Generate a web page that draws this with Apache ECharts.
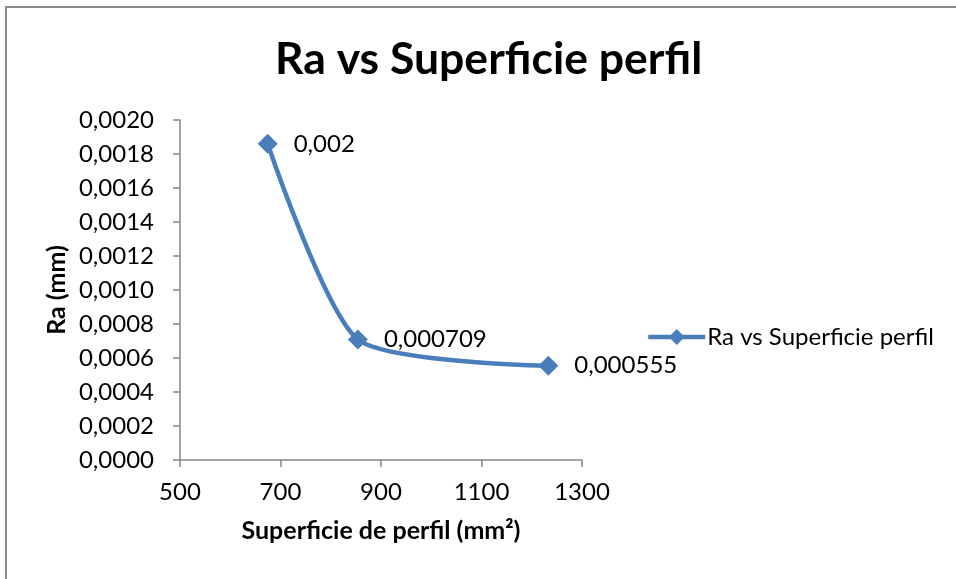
<!DOCTYPE html>
<html>
<head>
<meta charset="utf-8">
<script src="https://cdn.jsdelivr.net/npm/echarts@6/dist/echarts.min.js"></script>
<style>
  html, body { margin: 0; padding: 0; background: #fff; }
  #chart { width: 956px; height: 579px; }
</style>
</head>
<body>
<div id="chart"></div>
<script>
// Surface area of the profile (mm²) and measured roughness Ra (mm)
const superficie = [674.5, 854, 1233];
const ra = [0.00186, 0.000709, 0.000555];
// Text printed next to each point
const pointLabels = ['0,002', '0,000709', '0,000555'];
const seriesName = 'Ra vs Superficie perfil';

const FONT = 'Lato';
const BLUE = '#4A7EBB';
const AXIS = '#868686';

const chart = echarts.init(document.getElementById('chart'), null, { renderer: 'canvas' });

chart.setOption({
  backgroundColor: '#ffffff',
  animation: false,
  title: {
    text: 'Ra vs Superficie perfil',
    left: 270,
    top: 32,
    textStyle: { fontFamily: FONT, fontWeight: 'bold', fontSize: 44.5, color: '#000' }
  },
  graphic: [{
    type: 'rect',
    shape: { x: 6, y: 7, width: 1000, height: 700 },
    style: { fill: 'none', stroke: '#8c8c8c', lineWidth: 2 },
    silent: true
  }],
  legend: {
    left: 646,
    top: 325,
    padding: 0,
    itemWidth: 57,
    itemHeight: 20,
    itemGap: 4,
    lineStyle: { width: 4.5 },
    textStyle: { fontFamily: FONT, fontSize: 24, color: '#000', padding: [0, 0, 0, -3] },
    data: [seriesName]
  },
  grid: { left: 180, right: 374, top: 120, bottom: 119, containLabel: false },
  xAxis: {
    type: 'value',
    min: 500, max: 1300, interval: 200,
    name: 'Superficie de perfil (mm²)',
    nameLocation: 'middle',
    nameGap: 58,
    nameTextStyle: { fontFamily: FONT, fontWeight: 'bold', fontSize: 25, color: '#000' },
    axisLine: { lineStyle: { color: AXIS, width: 1.5 } },
    axisTick: { show: true, length: 7, lineStyle: { color: AXIS, width: 1.5 } },
    axisLabel: {
      fontFamily: FONT, fontSize: 24, color: '#000', margin: 20,
      formatter: v => String(v)
    },
    splitLine: { show: false }
  },
  yAxis: {
    type: 'value',
    min: 0, max: 0.002, interval: 0.0002,
    name: 'Ra (mm)',
    nameLocation: 'middle',
    nameGap: 111,
    nameTextStyle: { fontFamily: FONT, fontWeight: 'bold', fontSize: 25, color: '#000' },
    axisLine: { show: true, lineStyle: { color: AXIS, width: 1.5 } },
    axisTick: { show: true, length: 7, lineStyle: { color: AXIS, width: 1.5 } },
    axisLabel: {
      fontFamily: FONT, fontSize: 24, color: '#000', margin: 26,
      formatter: v => v.toFixed(4).replace('.', ',')
    },
    splitLine: { show: false }
  },
  series: [{
    name: seriesName,
    type: 'line',
    smooth: 0.22,
    data: superficie.map((x, i) => [x, ra[i]]),
    symbol: 'diamond',
    symbolSize: 20,
    itemStyle: { color: BLUE },
    lineStyle: { color: BLUE, width: 4.5 },
    label: {
      show: true,
      position: 'right',
      distance: 16,
      fontFamily: FONT,
      fontSize: 24,
      color: '#000',
      formatter: p => pointLabels[p.dataIndex]
    }
  }]
});
</script>
</body>
</html>
